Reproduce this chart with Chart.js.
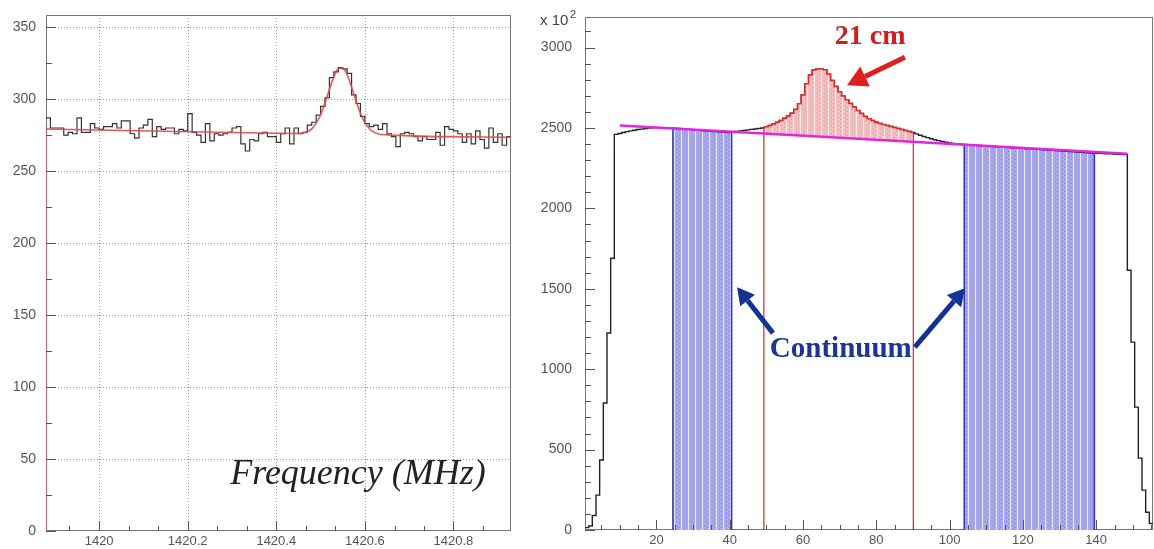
<!DOCTYPE html>
<html>
<head>
<meta charset="utf-8">
<script src="https://cdn.jsdelivr.net/npm/chart.js@4.4.1/dist/chart.umd.min.js"></script>
<style>
  html, body { margin: 0; padding: 0; background: #fff; }
  #wrap { position: relative; width: 1154px; height: 549px; overflow: hidden; }
  canvas { position: absolute; top: 0; }
  #left { left: 0; }
  #right { left: 520px; }
</style>
</head>
<body>
<div id="wrap">
  <canvas id="left" width="520" height="549"></canvas>
  <canvas id="right" width="634" height="549"></canvas>
</div>
<script>
// ---- left panel: spectrum around 1420 MHz ----
const freqStart = 1419.88;
const freqBin = 0.01;
const spectrumCounts = [
  287, 280, 280, 280, 275, 277, 276, 287, 277, 277,
  283, 280, 279, 281, 281, 283, 280, 285, 285, 276,
  273, 280, 282, 286, 274, 281, 279, 280, 280, 276,
  279, 278, 290, 277, 275, 270, 283, 271, 276, 275,
  276, 277, 280, 281, 269, 264, 272, 271, 276, 277,
  274, 274, 270, 276, 280, 269, 280, 276, 277, 282,
  284, 289, 295, 301, 315, 319, 322, 321, 318, 303,
  297, 288, 283, 281, 282, 279, 283, 276, 274, 267,
  276, 277, 276, 274, 271, 274, 272, 272, 277, 268,
  281, 279, 278, 276, 270, 276, 269, 278, 272, 266,
  280, 270, 276, 268, 274
];
const fitFreq = [1419.88, 1420.40, 1420.44, 1420.46, 1420.48, 1420.50, 1420.51, 1420.52, 1420.53, 1420.54,
  1420.55, 1420.56, 1420.57, 1420.58, 1420.59, 1420.60, 1420.62, 1420.65, 1420.93];
const fitValues = [279.3, 276.3, 276.2, 276.6, 279.4, 289.0, 297.3, 306.9, 315.7, 321.1,
  321.6, 317.0, 308.5, 299.0, 290.2, 283.7, 277.1, 275.2, 273.6];
const leftEdgeTop = 283;
const leftXTicks = [1420, 1420.2, 1420.4, 1420.6, 1420.8];
const leftXLabels = ["1420", "1420.2", "1420.4", "1420.6", "1420.8"];
const leftXMinor = [1419.933, 1420.067, 1420.133, 1420.267, 1420.333, 1420.467, 1420.533, 1420.667, 1420.733, 1420.867];
const leftYTicks = [0, 50, 100, 150, 200, 250, 300, 350];
const leftYMinor = [25, 75, 125, 175, 225, 275, 325];

// ---- right panel: channel histogram (x 10^2), bins centred on 1..155 ----
const channelCounts = [
  15, 25, 90, 217, 435, 790, 1225, 1690,
  2460, 2466, 2472, 2477, 2482, 2486, 2490, 2493, 2496, 2499, 2501, 2502,
  2502, 2501, 2500, 2500, 2499, 2497, 2495, 2493, 2491, 2489,
  2487, 2485, 2483, 2481, 2479, 2477, 2476, 2474, 2473, 2472,
  2474, 2478, 2482, 2485, 2488, 2491, 2494, 2497,
  2500, 2508, 2515, 2525, 2535, 2547, 2560, 2575, 2592, 2615,
  2650, 2705, 2775, 2830, 2860, 2866, 2866, 2862, 2835, 2795,
  2758, 2725, 2698, 2675, 2652, 2630, 2608, 2590, 2572, 2558,
  2546, 2536, 2528, 2521, 2515, 2509, 2503, 2497, 2490, 2484,
  2478, 2472,
  2463, 2455, 2447, 2440, 2433, 2427, 2421, 2416, 2411, 2407, 2404, 2401, 2399, 2397,
  2395, 2394, 2392, 2391, 2389, 2388, 2386, 2385, 2383, 2382,
  2380, 2379, 2377, 2376, 2374, 2373, 2371, 2370, 2368, 2367,
  2365, 2364, 2362, 2361, 2359, 2358, 2356, 2355, 2353, 2352,
  2350, 2349, 2347, 2346, 2344, 2343, 2342, 2341, 2340, 2339,
  2338, 2337, 2336, 2335,
  1615, 1168, 764, 447, 248, 110, 40
];
const baselineX = [10, 148.5];
const baselineY = [2515, 2340];
const continuumBands = [[24.5, 40.5], [104, 139.5]];
const peakCuts = [49.3, 90.1];
const rightXTicks = [20, 40, 60, 80, 100, 120, 140];
const rightYTicks = [0, 500, 1000, 1500, 2000, 2500, 3000];

Chart.defaults.font.family = "'Liberation Sans', Arial, sans-serif";
Chart.defaults.color = "#555";

// value of the channel bin that contains x
function channelAt(x) {
  var i = Math.round(x);
  if (i < 1) i = 1;
  if (i > channelCounts.length) i = channelCounts.length;
  return channelCounts[i - 1];
}

// outline of the channel histogram between x0 and x1
function channelSteps(x0, x1) {
  var pts = [];
  var v = channelAt(x0 + 0.001);
  pts.push({ x: x0, y: v });
  var e = Math.floor(x0 + 0.5) + 0.5;
  if (e <= x0) e += 1;
  while (e < x1 - 0.0001) {
    pts.push({ x: e, y: v });
    v = channelAt(e + 0.001);
    pts.push({ x: e, y: v });
    e += 1;
  }
  pts.push({ x: x1, y: v });
  return pts;
}

function spectrumSteps() {
  var pts = [];
  spectrumCounts.forEach(function (v, i) {
    pts.push({ x: freqStart + i * freqBin, y: v });
    pts.push({ x: freqStart + (i + 1) * freqBin, y: v });
  });
  return pts;
}

function makePattern(canvasId, base, stripe, dot) {
  var c = document.createElement("canvas");
  c.width = 7;
  c.height = 4;
  var g = c.getContext("2d");
  g.fillStyle = base;
  g.fillRect(0, 0, 7, 4);
  g.fillStyle = stripe;
  g.fillRect(0, 0, 1, 4);
  g.fillStyle = dot;
  g.fillRect(3, 1, 1, 1);
  g.fillRect(5, 3, 1, 1);
  return document.getElementById(canvasId).getContext("2d").createPattern(c, "repeat");
}

function drawArrow(ctx, x1, y1, x2, y2, color, w, head) {
  var ang = Math.atan2(y2 - y1, x2 - x1);
  var bx = x2 - Math.cos(ang) * head;
  var by = y2 - Math.sin(ang) * head;
  ctx.strokeStyle = color;
  ctx.lineWidth = w;
  ctx.lineCap = "butt";
  ctx.beginPath();
  ctx.moveTo(x1, y1);
  ctx.lineTo(bx, by);
  ctx.stroke();
  ctx.fillStyle = color;
  ctx.beginPath();
  ctx.moveTo(x2, y2);
  ctx.lineTo(bx + Math.sin(ang) * head * 0.55, by - Math.cos(ang) * head * 0.55);
  ctx.lineTo(bx - Math.sin(ang) * head * 0.55, by + Math.cos(ang) * head * 0.55);
  ctx.closePath();
  ctx.fill();
}

// frame, dotted grid, inward ROOT-style ticks and annotations
function panelPlugin(cfg) {
  return {
    id: "panel",
    beforeDatasetsDraw: function (chart) {
      var ctx = chart.ctx, a = chart.chartArea;
      var xs = chart.scales.x, ys = chart.scales.y;
      ctx.save();
      if (cfg.grid) {
        ctx.strokeStyle = "#a0a0a0";
        ctx.lineWidth = 1;
        ctx.setLineDash([1, 2]);
        ctx.beginPath();
        cfg.xMajor.forEach(function (v) {
          var px = Math.round(xs.getPixelForValue(v)) + 0.5;
          ctx.moveTo(px, a.top);
          ctx.lineTo(px, a.bottom);
        });
        cfg.yMajor.forEach(function (v) {
          if (v === 0) return;
          var py = Math.round(ys.getPixelForValue(v)) + 0.5;
          ctx.moveTo(a.left, py);
          ctx.lineTo(a.right, py);
        });
        ctx.stroke();
        ctx.setLineDash([]);
      }
      ctx.strokeStyle = "#777";
      ctx.lineWidth = 1;
      ctx.strokeRect(a.left + 0.5, a.top + 0.5, a.width - 1, a.height - 1);
      ctx.restore();
    },
    afterDatasetsDraw: function (chart) {
      var ctx = chart.ctx, a = chart.chartArea;
      var xs = chart.scales.x, ys = chart.scales.y;
      ctx.save();
      ctx.strokeStyle = "#555";
      ctx.lineWidth = 1;
      ctx.beginPath();
      function xt(v, len) {
        var px = Math.round(xs.getPixelForValue(v)) + 0.5;
        ctx.moveTo(px, a.bottom);
        ctx.lineTo(px, a.bottom - len);
      }
      function yt(v, len) {
        var py = Math.round(ys.getPixelForValue(v)) + 0.5;
        ctx.moveTo(a.left, py);
        ctx.lineTo(a.left + len, py);
      }
      cfg.xMajor.forEach(function (v) { xt(v, 10); });
      cfg.xMinor.forEach(function (v) { xt(v, 5); });
      cfg.yMajor.forEach(function (v) { yt(v, 10); });
      cfg.yMinor.forEach(function (v) { yt(v, 6); });
      ctx.stroke();

      (cfg.texts || []).forEach(function (t) {
        ctx.font = t.font;
        ctx.fillStyle = t.color;
        ctx.textAlign = t.align || "center";
        ctx.textBaseline = "alphabetic";
        var px = t.pixel ? a.left + t.x : xs.getPixelForValue(t.x);
        var py = t.pixel ? a.top + t.y : ys.getPixelForValue(t.y);
        ctx.fillText(t.text, px, py);
      });
      (cfg.arrows || []).forEach(function (r) {
        drawArrow(ctx, xs.getPixelForValue(r.x1), ys.getPixelForValue(r.y1),
          xs.getPixelForValue(r.x2), ys.getPixelForValue(r.y2), r.color, r.width, r.head);
      });
      ctx.restore();
    }
  };
}

function tickFont(size) {
  return { family: "'Liberation Sans', Arial, sans-serif", size: size };
}

// invisible tick marks give the label gap without adding layout padding
function gapGrid(len) {
  return { display: true, drawOnChartArea: false, drawTicks: true, tickLength: len,
    color: "rgba(0,0,0,0)", tickColor: "rgba(0,0,0,0)" };
}

// ---- left chart ----
new Chart(document.getElementById("left"), {
  type: "line",
  data: {
    datasets: [
      {
        data: fitFreq.map(function (f, i) { return { x: f, y: fitValues[i] }; }),
        borderColor: "rgba(228,70,75,0.9)",
        borderWidth: 1.6,
        pointRadius: 0,
        cubicInterpolationMode: "monotone",
        fill: false,
        order: 1
      },
      {
        data: spectrumSteps(),
        borderColor: "#333",
        borderWidth: 1.2,
        pointRadius: 0,
        fill: false,
        order: 2
      },
      {
        data: [{ x: freqStart, y: 0 }, { x: freqStart, y: leftEdgeTop }],
        borderColor: "rgba(228,90,95,0.9)",
        borderWidth: 1.6,
        pointRadius: 0,
        fill: false,
        order: 1
      }
    ]
  },
  options: {
    responsive: false,
    animation: false,
    events: [],
    layout: { padding: { top: 15, right: 9, left: 0, bottom: 0 } },
    plugins: { legend: { display: false }, tooltip: { enabled: false } },
    scales: {
      x: {
        type: "linear",
        min: freqStart,
        max: freqStart + spectrumCounts.length * freqBin,
        grid: gapGrid(3),
        border: { display: false },
        afterBuildTicks: function (s) { s.ticks = leftXTicks.map(function (v) { return { value: v }; }); },
        afterFit: function (s) { s.height = 18; },
        ticks: {
          autoSkip: false, maxRotation: 0, padding: 0, font: tickFont(13), color: "#555",
          callback: function (v, i) { return leftXLabels[i]; }
        }
      },
      y: {
        type: "linear",
        min: 0,
        max: 358.5,
        grid: gapGrid(10),
        border: { display: false },
        afterBuildTicks: function (s) { s.ticks = leftYTicks.map(function (v) { return { value: v }; }); },
        afterFit: function (s) { s.width = 46; },
        ticks: {
          autoSkip: false, padding: 0, font: tickFont(14), color: "#555",
          callback: function (v) { return String(v); }
        }
      }
    }
  },
  plugins: [panelPlugin({
    grid: true,
    xMajor: leftXTicks, xMinor: leftXMinor,
    yMajor: leftYTicks, yMinor: leftYMinor,
    texts: [
      { text: "Frequency (MHz)", x: 1420.296, y: 32.7, font: "italic 36px 'Liberation Serif', serif", color: "#222", align: "left" }
    ]
  })]
});

// ---- right chart ----
var bluePattern = makePattern("right", "rgb(168,168,237)", "rgba(238,238,255,0.9)", "rgba(115,115,208,0.7)");
var pinkPattern = makePattern("right", "rgb(243,190,190)", "rgba(255,238,238,0.9)", "rgba(205,120,120,0.6)");

var rightSets = [
  {
    data: channelSteps(0.5, 155.5),
    borderColor: "#222",
    borderWidth: 1.4,
    pointRadius: 0,
    fill: false,
    order: 3
  },
  {
    data: baselineX.map(function (x, i) { return { x: x, y: baselineY[i] }; }),
    borderColor: "#e424e4",
    borderWidth: 2.6,
    pointRadius: 0,
    fill: false,
    order: 1
  },
  {
    data: channelSteps(peakCuts[0], peakCuts[1]),
    borderColor: "#e02a2a",
    borderWidth: 1.5,
    backgroundColor: pinkPattern,
    pointRadius: 0,
    fill: 1,
    order: 2
  }
];
continuumBands.forEach(function (b) {
  rightSets.push({
    data: channelSteps(b[0], b[1]),
    borderWidth: 0,
    borderColor: "rgba(0,0,0,0)",
    backgroundColor: bluePattern,
    pointRadius: 0,
    fill: "origin",
    order: 5
  });
  b.forEach(function (x) {
    rightSets.push({
      data: [{ x: x, y: 0 }, { x: x, y: channelAt(x) }],
      borderColor: "#3434cc",
      borderWidth: 1.6,
      pointRadius: 0,
      fill: false,
      order: 4
    });
  });
});
peakCuts.forEach(function (x) {
  rightSets.push({
    data: [{ x: x, y: 0 }, { x: x, y: channelAt(x) }],
    borderColor: "#e83030",
    borderWidth: 1.3,
    pointRadius: 0,
    fill: false,
    order: 1
  });
});

var rightXMinor = [];
for (var m = 5; m <= 155; m += 5) if (m % 20 !== 0) rightXMinor.push(m);
var rightYMinor = [];
for (var n = 100; n <= 3100; n += 100) if (n % 500 !== 0) rightYMinor.push(n);

new Chart(document.getElementById("right"), {
  type: "line",
  data: { datasets: rightSets },
  options: {
    responsive: false,
    animation: false,
    events: [],
    layout: { padding: { top: 17, right: 1, left: 0, bottom: 0 } },
    plugins: { legend: { display: false }, tooltip: { enabled: false } },
    scales: {
      x: {
        type: "linear",
        min: 0.5,
        max: 155.5,
        grid: gapGrid(3),
        border: { display: false },
        afterBuildTicks: function (s) { s.ticks = rightXTicks.map(function (v) { return { value: v }; }); },
        afterFit: function (s) { s.height = 19; },
        ticks: {
          autoSkip: false, maxRotation: 0, padding: 0, font: tickFont(13), color: "#555",
          callback: function (v) { return String(v); }
        }
      },
      y: {
        type: "linear",
        min: 0,
        max: 3190,
        grid: gapGrid(13),
        border: { display: false },
        afterBuildTicks: function (s) { s.ticks = rightYTicks.map(function (v) { return { value: v }; }); },
        afterFit: function (s) { s.width = 65; },
        ticks: {
          autoSkip: false, padding: 0, font: tickFont(14), color: "#555",
          callback: function (v) { return String(v); }
        }
      }
    }
  },
  plugins: [panelPlugin({
    grid: false,
    xMajor: rightXTicks, xMinor: rightXMinor,
    yMajor: rightYTicks, yMinor: rightYMinor,
    texts: [
      { text: "x 10", x: -45, y: 8, pixel: true, font: "15px 'Liberation Sans', sans-serif", color: "#444", align: "left" },
      { text: "2", x: -15, y: 1, pixel: true, font: "11px 'Liberation Sans', sans-serif", color: "#444", align: "left" },
      { text: "21 cm", x: 78.3, y: 3020, font: "bold 28px 'Liberation Serif', serif", color: "#d41c1c" },
      { text: "Continuum", x: 70.3, y: 1075, font: "bold 29px 'Liberation Serif', serif", color: "#1b3590" }
    ],
    arrows: [
      { x1: 87.8, y1: 2940, x2: 72.0, y2: 2766, color: "#e01e1e", width: 5, head: 20 },
      { x1: 51.8, y1: 1224, x2: 42.0, y2: 1510, color: "#123294", width: 5, head: 17 },
      { x1: 90.5, y1: 1137, x2: 104.2, y2: 1504, color: "#123294", width: 5, head: 17 }
    ]
  })]
});
</script>
</body>
</html>
